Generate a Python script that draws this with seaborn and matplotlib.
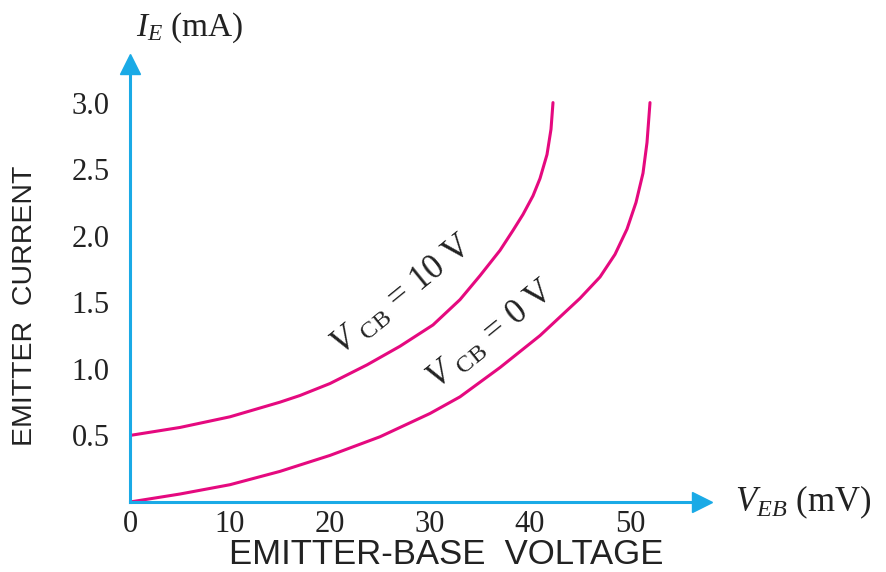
import pandas as pd
import seaborn as sns
import matplotlib.pyplot as plt

# Values (V_EB in mV, I_E in mA)
veb_10v = [0, 5, 10, 15, 17, 20, 23.7, 27, 30.3, 33, 35, 37, 38.3, 39.3, 40.3, 41, 41.7, 42.1, 42.3]
ie_10v = [0.5, 0.56, 0.64, 0.75, 0.80, 0.89, 1.03, 1.17, 1.33, 1.52, 1.70, 1.89, 2.04, 2.16, 2.30,
          2.43, 2.61, 2.80, 3.0]
veb_0v = [0, 5, 10, 15, 20, 25, 30, 33, 35, 37, 39, 41, 43, 45, 47, 48.5, 49.7, 50.6, 51.3, 51.7, 52.0]
ie_0v = [0, 0.06, 0.13, 0.23, 0.35, 0.49, 0.665, 0.79, 0.90, 1.01, 1.13, 1.25, 1.39, 1.53, 1.69,
         1.86, 2.05, 2.25, 2.47, 2.70, 3.0]
x_ticks = [0, 10, 20, 30, 40, 50]
y_ticks = [0.5, 1.0, 1.5, 2.0, 2.5, 3.0]

blue = '#1aaae6'
pink = '#e5097f'
ink = '#222222'

sns.set_theme(style='white')
plt.rcParams['font.family'] = ['Liberation Serif', 'DejaVu Serif']
plt.rcParams['mathtext.fontset'] = 'custom'
plt.rcParams['mathtext.rm'] = 'Liberation Serif'
plt.rcParams['mathtext.it'] = 'Liberation Serif:italic'

df = pd.concat([
    pd.DataFrame({'veb': veb_10v, 'ie': ie_10v, 'vcb': '10 V'}),
    pd.DataFrame({'veb': veb_0v, 'ie': ie_0v, 'vcb': '0 V'}),
])

fig = plt.figure(figsize=(8.87, 5.72), dpi=100)
ax = fig.add_axes([130/887, 70/572, 572/887, 438/572])

sns.lineplot(data=df, x='veb', y='ie', hue='vcb', palette=[pink, pink],
             estimator=None, sort=False, legend=False, linewidth=2.2, ax=ax)

ax.set_xlim(0, 57.2)
ax.set_ylim(0, 3.29)
ax.set_xticks(x_ticks)
ax.set_yticks(y_ticks)
ax.set_yticklabels([f'{v:.1f}' for v in y_ticks])
ax.set_xlabel('')
ax.set_ylabel('')

for s in ['top', 'right']:
    ax.spines[s].set_visible(False)
for s in ['left', 'bottom']:
    ax.spines[s].set_color(blue)
    ax.spines[s].set_linewidth(2.2)

ax.tick_params(axis='x', direction='in', length=7, width=2.2, color=blue,
               labelsize=22, pad=6, labelcolor=ink)
ax.tick_params(axis='y', direction='out', length=8.5, width=2.2, color=blue,
               labelsize=22, pad=6, labelcolor=ink)

# arrow heads on the axes
ax.plot(1, 0, '>', ms=14, color=blue, transform=ax.transAxes, clip_on=False)
ax.plot(0, 1, '^', ms=14, color=blue, transform=ax.transAxes, clip_on=False)

# curve labels
ax.text(27.3, 1.55, r'$V\ _{\mathrm{CB}}\,=\,\mathrm{10\ V}$', fontsize=25, rotation=39,
        ha='center', va='center', color=ink)
ax.text(36.2, 1.25, r'$V\ _{\mathrm{CB}}\,=\,\mathrm{0\ V}$', fontsize=25, rotation=39,
        ha='center', va='center', color=ink)

# axis names
fig.text(190/887, 1 - 28/572, r'$I_E$ (mA)', fontsize=24, ha='center', va='center', color=ink)
fig.text(803/887, 1 - 502/572, r'$V_{EB}$ (mV)', fontsize=25, ha='center', va='center', color=ink)
fig.text(25/887, 1 - 306/572, 'EMITTER  CURRENT', family='Liberation Sans', fontsize=20.5,
         rotation=90, ha='center', va='center', color=ink)
fig.text(446/887, 1 - 555/572, 'EMITTER-BASE  VOLTAGE', family='Liberation Sans', fontsize=25,
         ha='center', va='center', color=ink)

fig.savefig('out.png', dpi=100)
